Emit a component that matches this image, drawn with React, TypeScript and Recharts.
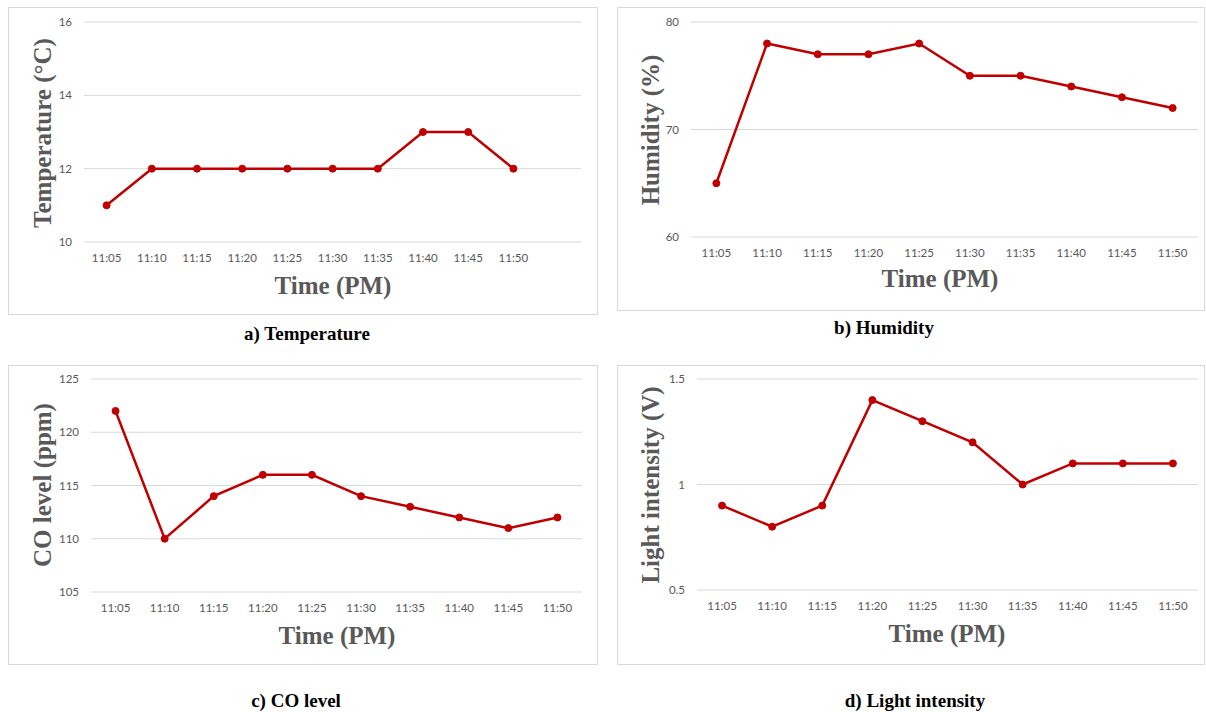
import React from "react";
import { LineChart, Line, XAxis, YAxis, CartesianGrid } from "recharts";

const times = ["11:05", "11:10", "11:15", "11:20", "11:25", "11:30", "11:35", "11:40", "11:45", "11:50"];
const temperature = [11, 12, 12, 12, 12, 12, 12, 13, 13, 12];
const humidity = [65, 78, 77, 77, 78, 75, 75, 74, 73, 72];
const coLevel = [122, 110, 114, 116, 116, 114, 113, 112, 111, 112];
const light = [0.9, 0.8, 0.9, 1.4, 1.3, 1.2, 1.0, 1.1, 1.1, 1.1];

const tempTicks = [10, 12, 14, 16];
const humTicks = [60, 70, 80];
const coTicks = [105, 110, 115, 120, 125];
const lightTicks = [0.5, 1, 1.5];

const RED = "#C00000";
const GRAY = "#595959";
const GRID = "#D9D9D9";

type PanelProps = {
  values: number[];
  ticks: number[];
  yTitle: string;
  caption: string;
  box: [number, number, number, number];
  plot: [number, number, number, number];
  padRight?: number;
  yTitlePos: [number, number];
  xTitlePos: [number, number];
  captionPos: [number, number];
};

const serif = "'Liberation Serif', 'Times New Roman', serif";

function Panel(p: PanelProps) {
  const [bl, bt, bw, bh] = p.box;
  const [x1, y1, x2, y2] = p.plot;
  const data = times.map((t, i) => ({ time: t, value: p.values[i] }));
  const yAxisWidth = x1 - bl;
  const xAxisHeight = 30;
  const margin = {
    top: y1 - bt,
    right: bl + bw - x2,
    left: 0,
    bottom: bt + bh - y2 - xAxisHeight,
  };
  const tickStyle = { fontFamily: "Lato, 'Open Sans', sans-serif", fontSize: 11.5, fill: GRAY };
  return (
    <>
      <div
        style={{
          position: "absolute",
          left: bl,
          top: bt,
          width: bw,
          height: bh,
          border: `1px solid ${GRID}`,
          boxSizing: "border-box",
        }}
      />
      <div style={{ position: "absolute", left: bl, top: bt }}>
        <LineChart width={bw} height={bh} data={data} margin={margin}>
          <CartesianGrid vertical={false} stroke={GRID} strokeWidth={1} />
          <XAxis
            dataKey="time"
            scale="band"
            height={xAxisHeight}
            axisLine={false}
            tickLine={false}
            tick={tickStyle}
            tickMargin={6}
            interval={0}
            padding={{ left: 0, right: p.padRight ?? 0 }}
          />
          <YAxis
            width={yAxisWidth}
            domain={[p.ticks[0], p.ticks[p.ticks.length - 1]]}
            ticks={p.ticks}
            axisLine={false}
            tickLine={false}
            tick={tickStyle}
            tickMargin={6}
            allowDataOverflow
          />
          <Line
            type="linear"
            dataKey="value"
            stroke={RED}
            strokeWidth={2.5}
            dot={{ r: 3.5, fill: RED, stroke: RED, strokeWidth: 1 }}
            isAnimationActive={false}
          />
        </LineChart>
      </div>
      <div
        style={{
          position: "absolute",
          left: p.yTitlePos[0],
          top: p.yTitlePos[1],
          transform: "translate(-50%, -50%) rotate(-90deg)",
          fontFamily: serif,
          fontWeight: "bold",
          fontSize: 25,
          color: GRAY,
          whiteSpace: "nowrap",
          lineHeight: 1,
        }}
      >
        {p.yTitle}
      </div>
      <div
        style={{
          position: "absolute",
          left: p.xTitlePos[0],
          top: p.xTitlePos[1],
          transform: "translate(-50%, -50%)",
          fontFamily: serif,
          fontWeight: "bold",
          fontSize: 25,
          color: GRAY,
          whiteSpace: "nowrap",
          lineHeight: 1,
        }}
      >
        Time (PM)
      </div>
      <div
        style={{
          position: "absolute",
          left: p.captionPos[0],
          top: p.captionPos[1],
          transform: "translate(-50%, -50%)",
          fontFamily: serif,
          fontWeight: "bold",
          fontSize: 19,
          color: "#000",
          whiteSpace: "nowrap",
          lineHeight: 1,
        }}
      >
        {p.caption}
      </div>
    </>
  );
}

export default function App() {
  return (
    <div style={{ position: "absolute", left: 0, top: 0, width: 1206, height: 712, background: "#fff", overflow: "hidden" }}>
      <Panel
        values={temperature}
        ticks={tempTicks}
        yTitle="Temperature (°C)"
        caption="a) Temperature"
        box={[8, 7, 590, 308]}
        plot={[84, 22, 581, 242]}
        padRight={45}
        yTitlePos={[42, 133]}
        xTitlePos={[333, 285]}
        captionPos={[307, 333]}
      />
      <Panel
        values={humidity}
        ticks={humTicks}
        yTitle="Humidity (%)"
        caption="b) Humidity"
        box={[617, 7, 588, 304]}
        plot={[691, 22, 1198, 237]}
        yTitlePos={[650, 130]}
        xTitlePos={[940, 278]}
        captionPos={[884, 327]}
      />
      <Panel
        values={coLevel}
        ticks={coTicks}
        yTitle="CO level (ppm)"
        caption="c) CO level"
        box={[8, 365, 590, 300]}
        plot={[91, 379, 582, 592]}
        yTitlePos={[42, 485]}
        xTitlePos={[337, 635]}
        captionPos={[296, 700]}
      />
      <Panel
        values={light}
        ticks={lightTicks}
        yTitle="Light intensity (V)"
        caption="d) Light intensity"
        box={[617, 365, 588, 300]}
        plot={[697, 379, 1198, 590]}
        yTitlePos={[650, 485]}
        xTitlePos={[947, 633]}
        captionPos={[915, 700]}
      />
    </div>
  );
}
